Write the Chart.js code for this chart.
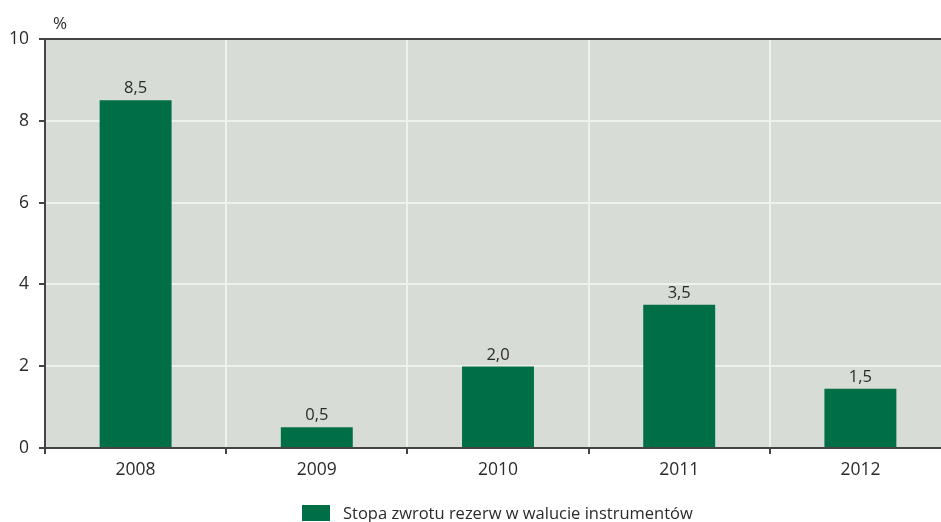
<!DOCTYPE html>
<html>

<head>
  <meta charset="UTF-8">
  <style>
    html, body { margin: 0; padding: 0; background: #fff; overflow: hidden; }
    #clip { width: 941px; height: 522px; overflow: hidden; }
    #wrap { width: 951px; height: 522px; }
  </style>
</head>

<body>
  <div id="clip"><div id="wrap"><canvas id="rateChart"></canvas></div></div>

  <script src="https://cdn.jsdelivr.net/npm/chart.js@4.3.0/dist/chart.umd.min.js"></script>
  <script>
    const years = ["2008", "2009", "2010", "2011", "2012"]
    const rates = [8.5, 0.51, 1.99, 3.5, 1.45]
    const rateLabels = ["8,5", "0,5", "2,0", "3,5", "1,5"]
    const seriesName = "Stopa zwrotu rezerw w walucie instrumentów"

    const FONT = "'Open Sans', sans-serif"
    const INK = "#2b2b2b"
    const GREEN = "#006e46"

    // plot background, top frame line, % unit, value labels and legend
    const decor = {
      id: "decor",
      beforeDraw(chart) {
        const { ctx, chartArea: a } = chart
        ctx.save()
        ctx.fillStyle = "#d7dcd6"
        ctx.fillRect(a.left, a.top, a.right - a.left, a.bottom - a.top)
        ctx.restore()
      },
      afterDatasetsDraw(chart) {
        const { ctx, chartArea: a } = chart
        ctx.save()
        ctx.strokeStyle = "#444"
        ctx.lineWidth = 2
        ctx.beginPath()
        ctx.moveTo(a.left - 6, a.top)
        ctx.lineTo(a.right, a.top)
        ctx.stroke()

        ctx.fillStyle = INK
        ctx.font = "17px " + FONT
        ctx.textAlign = "left"
        ctx.textBaseline = "alphabetic"
        ctx.fillText("%", 53, 29)

        ctx.font = "16.5px " + FONT
        ctx.textAlign = "center"
        chart.getDatasetMeta(0).data.forEach((bar, i) => {
          ctx.fillText(rateLabels[i], bar.x, bar.y - 7)
        })

        // legend
        const ds = chart.data.datasets[0]
        ctx.fillStyle = ds.backgroundColor
        ctx.fillRect(302, 505, 28, 16)
        ctx.fillStyle = INK
        ctx.font = "16.5px " + FONT
        ctx.textAlign = "left"
        ctx.textBaseline = "middle"
        ctx.fillText(ds.label, 343, 514)
        ctx.restore()
      }
    }

    new Chart(document.getElementById("rateChart"), {
      type: "bar",
      data: {
        labels: years,
        datasets: [{
          label: seriesName,
          data: rates,
          backgroundColor: GREEN,
          categoryPercentage: 0.397,
          barPercentage: 1
        }]
      },
      plugins: [decor],
      options: {
        responsive: true,
        maintainAspectRatio: false,
        animation: false,
        layout: { padding: { top: 39, right: 0, left: 0, bottom: 0 } },
        scales: {
          x: {
            afterFit(s) { s.height = 74 },
            border: { color: "#444", width: 2 },
            grid: {
              offset: true,
              color: "#eff1ee",
              lineWidth: 2,
              tickColor: "#444",
              tickLength: 6
            },
            ticks: { color: INK, font: { family: FONT, size: 17.5 }, padding: 6 }
          },
          y: {
            min: 0,
            max: 10,
            afterFit(s) { s.width = 45 },
            border: { color: "#444", width: 2 },
            grid: {
              color: (c) => (c.tick && (c.tick.value === 0 || c.tick.value === 10)) ? "rgba(0,0,0,0)" : "#eff1ee",
              lineWidth: 2,
              tickColor: "#444",
              tickLength: 6
            },
            ticks: { stepSize: 2, color: INK, font: { family: FONT, size: 17.5 }, padding: 10 }
          }
        },
        plugins: {
          legend: { display: false },
          tooltip: { enabled: false }
        }
      }
    })
  </script>
</body>
</html>
